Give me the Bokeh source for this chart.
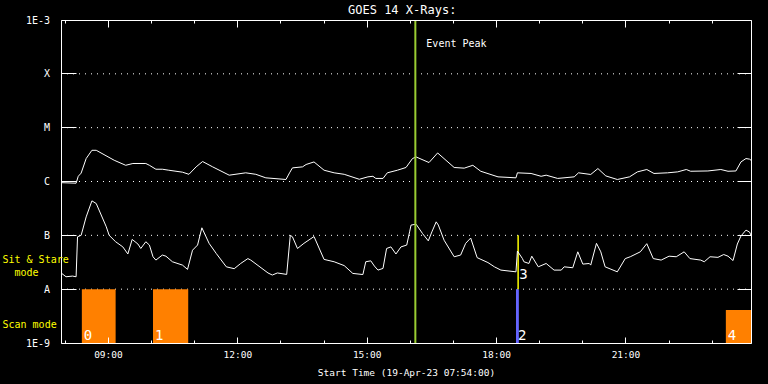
from datetime import datetime, timedelta
from bokeh.plotting import figure
from bokeh.models import (FixedTicker, DatetimeTickFormatter, DatetimeAxis, LogAxis,
                          Label, CustomJSTickFormatter, Range1d)
from bokeh.core.properties import value
from bokeh.embed import file_html
from bokeh.resources import INLINE

# ---------------- data ----------------
start_time = "07:54"
end_time = "23:54"
event_peak_time = "16:07"

long_time = ["07:55", "08:15", "08:18", "08:22", "08:29", "08:37", "08:43", "09:08", "09:24", "09:34",
             "09:52", "09:57", "10:06", "10:15", "10:24", "10:43", "10:52", "11:02", "11:11", "11:25",
             "11:48", "12:11", "12:25", "12:39", "13:07", "13:12", "13:16", "13:30", "13:35", "13:46",
             "14:00", "14:14", "14:28", "14:49", "15:01", "15:08", "15:12", "15:22", "15:28", "15:42",
             "15:54", "16:03", "16:08", "16:26", "16:38", "17:01", "17:15", "17:27", "17:38", "18:02",
             "18:27", "18:29", "18:48", "19:02", "19:09", "19:25", "19:48", "19:54", "20:11", "20:21",
             "20:32", "20:48", "21:05", "21:16", "21:29", "21:39", "21:58", "22:12", "22:24", "22:30",
             "22:54", "23:12", "23:22", "23:33", "23:40", "23:47", "23:52", "23:54"]
long_flux = [9.5e-7, 9.3e-7, 1.25e-6, 1.43e-6, 2.67e-6, 3.8e-6, 3.8e-6, 2.48e-6, 2.0e-6, 2.16e-6,
             2.16e-6, 2.0e-6, 1.69e-6, 1.69e-6, 1.62e-6, 1.49e-6, 1.36e-6, 1.87e-6, 2.35e-6, 1.87e-6,
             1.31e-6, 1.45e-6, 1.36e-6, 1.17e-6, 1.09e-6, 1.45e-6, 1.79e-6, 1.87e-6, 2.07e-6, 2.31e-6,
             1.62e-6, 1.45e-6, 1.36e-6, 1.10e-6, 1.22e-6, 1.25e-6, 1.14e-6, 1.14e-6, 1.45e-6, 1.62e-6,
             1.82e-6, 2.67e-6, 2.86e-6, 2.25e-6, 3.39e-6, 1.82e-6, 1.77e-6, 2.0e-6, 1.55e-6, 1.22e-6,
             1.17e-6, 1.45e-6, 1.41e-6, 1.25e-6, 1.31e-6, 1.14e-6, 1.22e-6, 1.45e-6, 1.35e-6, 1.74e-6,
             1.27e-6, 1.09e-6, 1.22e-6, 1.51e-6, 1.67e-6, 1.41e-6, 1.45e-6, 1.51e-6, 1.67e-6, 1.55e-6,
             1.57e-6, 1.67e-6, 1.55e-6, 1.57e-6, 2.31e-6, 2.67e-6, 2.60e-6, 2.48e-6]

short_time = ["07:55", "08:01", "08:10", "08:15", "08:17", "08:22", "08:29", "08:37", "08:43", "08:57",
              "09:01", "09:10", "09:20", "09:27", "09:33", "09:41", "09:45", "09:52", "09:57", "10:02",
              "10:06", "10:15", "10:20", "10:29", "10:43", "10:50", "10:57", "11:04", "11:10", "11:20",
              "11:30", "11:44", "11:55", "12:04", "12:14", "12:18", "12:42", "12:48", "12:55", "13:08",
              "13:13", "13:16", "13:23", "13:32", "13:46", "14:00", "14:14", "14:28", "14:40", "14:54",
              "14:58", "15:05", "15:10", "15:15", "15:22", "15:27", "15:33", "15:40", "15:47", "15:55",
              "15:59", "16:01", "16:08", "16:17", "16:25", "16:30", "16:36", "16:39", "16:47", "17:01",
              "17:10", "17:17", "17:24", "17:33", "17:48", "17:57", "18:06", "18:27", "18:29", "18:36",
              "18:38", "18:45", "18:49", "18:58", "19:09", "19:20", "19:30", "19:34", "19:46", "19:53",
              "20:00", "20:09", "20:11", "20:19", "20:25", "20:31", "20:48", "20:59", "21:06", "21:20",
              "21:29", "21:38", "21:49", "22:00", "22:10", "22:21", "22:29", "22:44", "22:49", "22:57",
              "23:08", "23:16", "23:22", "23:29", "23:35", "23:40", "23:47", "23:52", "23:54"]
short_flux = [1.96e-8, 1.70e-8, 1.75e-8, 1.70e-8, 9.4e-8, 1.0e-7, 2.2e-7, 4.37e-7, 3.9e-7, 1.44e-7,
              1.0e-7, 7.6e-8, 6.1e-8, 4.5e-8, 8.4e-8, 6.9e-8, 5.7e-8, 7.6e-8, 6.6e-8, 4.0e-8,
              3.47e-8, 4.3e-8, 4.1e-8, 3.23e-8, 2.8e-8, 2.33e-8, 5.3e-8, 6.6e-8, 1.38e-7, 7.1e-8,
              4.6e-8, 2.6e-8, 2.4e-8, 3.0e-8, 3.7e-8, 3.47e-8, 2.0e-8, 1.83e-8, 2.0e-8, 1.88e-8,
              1.0e-7, 9.4e-8, 5.7e-8, 7.1e-8, 9.5e-8, 3.57e-8, 3.23e-8, 2.74e-8, 1.96e-8, 1.87e-8,
              3.23e-8, 3.36e-8, 2.69e-8, 2.26e-8, 2.43e-8, 5.7e-8, 6.1e-8, 4.5e-8, 6.1e-8, 6.6e-8,
              1.16e-7, 1.55e-7, 1.61e-7, 1.08e-7, 7.9e-8, 1.16e-7, 1.78e-7, 1.55e-7, 8.1e-8, 4.0e-8,
              4.3e-8, 7.1e-8, 8.9e-8, 3.85e-8, 3.12e-8, 2.6e-8, 2.26e-8, 2.1e-8, 5.1e-8, 3.7e-8,
              3.23e-8, 3.0e-8, 4.1e-8, 2.6e-8, 3.0e-8, 2.26e-8, 2.26e-8, 2.6e-8, 2.5e-8, 4.94e-8,
              2.92e-8, 3.0e-8, 2.8e-8, 7.1e-8, 4.94e-8, 2.6e-8, 2.1e-8, 3.7e-8, 4.0e-8, 4.94e-8,
              7.0e-8, 3.7e-8, 3.47e-8, 4.1e-8, 4.0e-8, 4.94e-8, 3.7e-8, 3.47e-8, 3.23e-8, 4.0e-8,
              3.9e-8, 4.4e-8, 4.1e-8, 3.4e-8, 6.9e-8, 9.7e-8, 1.25e-7, 1.15e-7, 1.0e-7]

# scan-mode observations (orange)
scan_labels = ["0", "1", "4"]
scan_start = ["08:23", "10:02", "23:19"]
scan_end = ["09:10", "10:51", "23:54"]
scan_top = [1e-8, 1e-8, 4.1e-9]

# scan-mode observation (blue)
blue_labels = ["2"]
blue_start = ["18:27"]
blue_end = ["18:31"]
blue_top = [1e-8]

# sit & stare observation (yellow)
sns_labels = ["3"]
sns_time = ["18:30"]
sns_low = [1e-8]
sns_high = [1e-7]

y_ticks = [1e-9, 1e-8, 1e-7, 1e-6, 1e-5, 1e-4, 1e-3]
y_tick_labels = ["1E-9", "A", "B", "C", "M", "X", "1E-3"]
grid_levels = [1e-8, 1e-7, 1e-6, 1e-5, 1e-4]
x_major_hours = ["09:00", "12:00", "15:00", "18:00", "21:00"]
x_minor_hours = ["08:00", "09:00", "10:00", "11:00", "12:00", "13:00", "14:00", "15:00", "16:00",
                 "17:00", "18:00", "19:00", "20:00", "21:00", "22:00", "23:00"]

# ---------------- helpers ----------------
def t(s):
    h, m = map(int, s.split(":"))
    return datetime(2023, 4, 19, h, m)

EPOCH = datetime(1970, 1, 1)
def ms(dt):
    return (dt - EPOCH).total_seconds() * 1000.0

FONT = "DejaVu Sans Mono"
WHITE = "white"
t0, t1 = t(start_time), t(end_time)

# canvas geometry: the data box sits inside a full-canvas frame
W, H = 768, 384
BOX_L, BOX_R, BOX_T, BOX_B = 60.5, 750.5, 19.5, 342.5
min_per_px = (t1 - t0).total_seconds() / 60.0 / (BOX_R - BOX_L)
dec_per_px = 6.0 / (BOX_B - BOX_T)
x_lo = t0 - timedelta(minutes=BOX_L * min_per_px)
x_hi = t1 + timedelta(minutes=(W - BOX_R) * min_per_px)
y_hi = 10 ** (-3 + BOX_T * dec_per_px)
y_lo = 10 ** (-9 - (H - BOX_B) * dec_per_px)

def px_time(px):
    return ms(t0) + (px - BOX_L) * min_per_px * 60000.0

def px_flux(py):
    return 10 ** (-3 - (py - BOX_T) * dec_per_px)

p = figure(width=W, height=H, x_axis_type="datetime", y_axis_type="log",
           x_range=Range1d(x_lo, x_hi), y_range=Range1d(y_lo, y_hi), title=None,
           output_backend="svg", toolbar_location=None,
           background_fill_color="black", border_fill_color="black",
           outline_line_color=None,
           min_border_left=0, min_border_right=0, min_border_top=0, min_border_bottom=0)

xt = FixedTicker(ticks=[ms(t(s)) for s in x_major_hours], minor_ticks=[ms(t(s)) for s in x_minor_hours])
yt = FixedTicker(ticks=y_ticks, minor_ticks=[])
yfmt = CustomJSTickFormatter(args=dict(labels=y_tick_labels),
                             code="return labels[Math.round(Math.log10(tick)) + 9];")
fmt = "%H:%M"
xfmt = DatetimeTickFormatter(hours=fmt, minutes=fmt, hourmin=fmt, minsec=fmt, days=fmt)

# bottom axis
xa = p.xaxis[0]
xa.fixed_location = 1e-9
xa.bounds = (ms(t0), ms(t1))
xa.ticker = xt
xa.formatter = xfmt
xa.axis_line_color = WHITE
xa.major_tick_line_color = WHITE
xa.minor_tick_line_color = WHITE
xa.major_tick_in = 6
xa.major_tick_out = 0
xa.minor_tick_in = 3
xa.minor_tick_out = 0
xa.major_label_standoff = 6
xa.major_label_text_color = WHITE
xa.major_label_text_font = FONT
xa.major_label_text_font_size = "9.5px"
xa.axis_label = "Start Time (19-Apr-23 07:54:00)"
xa.axis_label_text_color = WHITE
xa.axis_label_text_font = FONT
xa.axis_label_text_font_size = "9.5px"
xa.axis_label_text_font_style = "normal"
xa.axis_label_standoff = 3

# left axis
ya = p.yaxis[0]
ya.fixed_location = ms(t0)
ya.bounds = (1e-9, 1e-3)
ya.ticker = yt
ya.formatter = yfmt
ya.axis_line_color = WHITE
ya.major_tick_line_color = WHITE
ya.minor_tick_line_color = None
ya.major_tick_in = 15
ya.major_tick_out = 0
ya.major_label_standoff = 11
ya.major_label_text_color = WHITE
ya.major_label_text_font = FONT
ya.major_label_text_font_size = "10px"

# top axis (ticks only)
ta = DatetimeAxis(ticker=xt, formatter=xfmt, fixed_location=1e-3, bounds=(ms(t0), ms(t1)),
                  axis_line_color=WHITE, major_tick_line_color=WHITE,
                  minor_tick_line_color=WHITE, major_tick_in=7, major_tick_out=0,
                  minor_tick_in=3, minor_tick_out=0, major_label_text_color=None)
p.add_layout(ta, "above")

# right axis (ticks only)
ra = LogAxis(ticker=yt, formatter=yfmt, fixed_location=ms(t1), bounds=(1e-9, 1e-3),
             axis_line_color=WHITE, major_tick_line_color=WHITE,
             minor_tick_line_color=None, major_tick_in=14, major_tick_out=0,
             major_label_text_color=None)
p.add_layout(ra, "right")

p.xgrid.visible = False
p.ygrid.visible = False
# dotted decade lines
p.segment(x0=[t0] * len(grid_levels), x1=[t1] * len(grid_levels), y0=grid_levels, y1=grid_levels,
          line_color=WHITE, line_dash="1 5", line_width=1)

# bars
p.quad(left=[t(s) for s in scan_start], right=[t(s) for s in scan_end],
       bottom=[1e-9] * len(scan_start), top=scan_top,
       fill_color="#ff8000", line_color=None)
p.quad(left=[t(s) for s in blue_start], right=[t(s) for s in blue_end],
       bottom=[1e-9] * len(blue_start), top=blue_top,
       fill_color="#6464ff", line_color=None)
p.segment(x0=[t(s) for s in sns_time], y0=sns_low, x1=[t(s) for s in sns_time], y1=sns_high,
          line_color="#ffff00", line_width=1.5)

# curves
p.line([t(s) for s in long_time], long_flux, line_color=WHITE, line_width=1)
p.line([t(s) for s in short_time], short_flux, line_color=WHITE, line_width=1)

# event peak
p.segment(x0=[t(event_peak_time)], x1=[t(event_peak_time)], y0=[1e-9], y1=[1e-3],
          line_color="#9acd32", line_width=2)
p.add_layout(Label(x=ms(t(event_peak_time)), y=px_flux(43), x_offset=11, text="Event Peak",
                   text_color=WHITE, text_font=FONT, text_font_size="10px",
                   text_baseline="middle", text_align="left"))

# bar number labels
p.text(x=[t(s) for s in scan_start + blue_start], y=[px_flux(339.5)] * 4,
       text=scan_labels + blue_labels, x_offset=2, text_color=WHITE,
       text_font=value(FONT), text_font_size="14px", text_baseline="bottom")
p.text(x=[t(s) for s in sns_time], y=[px_flux(278.5)], text=sns_labels, x_offset=1, text_color=WHITE,
       text_font=value(FONT), text_font_size="14px", text_baseline="bottom")

# title
p.add_layout(Label(x=px_time(401.7), y=px_flux(9.5), text="GOES 14 X-Rays:",
                   text_color=WHITE, text_font=FONT, text_font_size="12px",
                   text_align="center", text_baseline="middle"))

# mode labels on the left
for txt, py in [("Sit & Stare", 258.5), ("\u00a0\u00a0mode", 271.5), ("Scan mode", 323.5)]:
    p.add_layout(Label(x=px_time(2), y=px_flux(py), text=txt,
                       text_color="#ffff00", text_font=FONT, text_font_size="10px",
                       text_baseline="middle", text_align="left"))

html = file_html(p, INLINE, title="GOES 14 X-Rays")
html = html.replace("<head>", "<head><style>html,body{margin:0;padding:0;background:#000;overflow:hidden}</style>", 1)
open("out.html", "w").write(html)
